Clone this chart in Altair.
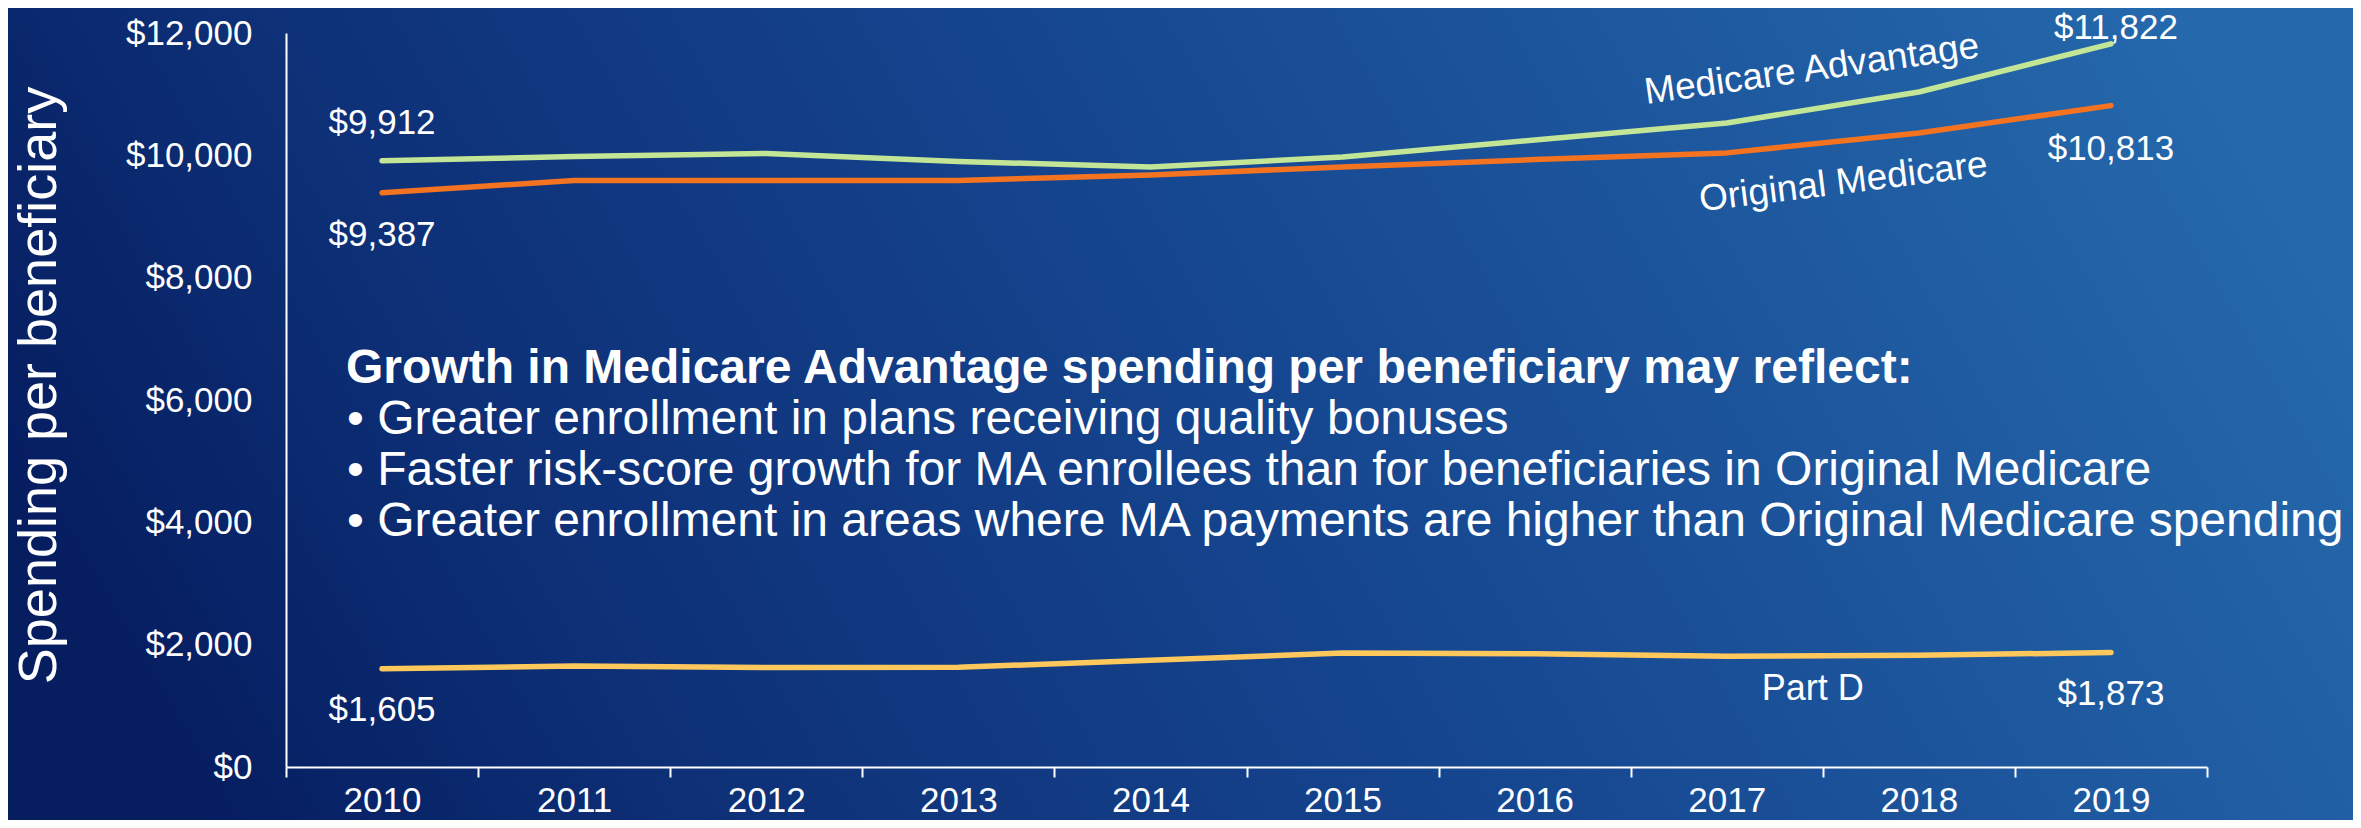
import altair as alt
import pandas as pd

# ---------------- data ----------------
years = ["2010", "2011", "2012", "2013", "2014", "2015", "2016", "2017", "2018", "2019"]
medicare_advantage = [9912, 9980, 10030, 9900, 9810, 9972, 10250, 10530, 11035, 11822]
original_medicare = [9387, 9590, 9590, 9590, 9680, 9810, 9930, 10040, 10365, 10813]
part_d = [1605, 1650, 1625, 1630, 1745, 1863, 1850, 1810, 1825, 1873]

series_names = ["Medicare Advantage", "Original Medicare", "Part D"]
series_colors = ["#c3e596", "#f47321", "#fec85c"]
y_ticks = [0, 2000, 4000, 6000, 8000, 10000, 12000]
y_title = "Spending per beneficiary"

headline = "Growth in Medicare Advantage spending per beneficiary may reflect:"
bullets = [
    "\u2022 Greater enrollment in plans receiving quality bonuses",
    "\u2022 Faster risk-score growth for MA enrollees than for beneficiaries in Original Medicare",
    "\u2022 Greater enrollment in areas where MA payments are higher than Original Medicare spending",
]

FONT = "Liberation Sans"
WHITE = "#ffffff"

rows = []
for name, vals in zip(series_names, [medicare_advantage, original_medicare, part_d]):
    for yr, v in zip(years, vals):
        rows.append({"year": yr, "series": name, "value": v})
df = pd.DataFrame(rows)

x_enc = alt.X(
    "year:O",
    bandPosition=0.5,
    sort=years,
    scale=alt.Scale(type="band", paddingInner=0, paddingOuter=0, domain=years),
    axis=alt.Axis(
        title=None, labelAngle=0, labelFontSize=35, labelColor=WHITE, labelFont=FONT,
        domainColor=WHITE, domainWidth=2, tickColor=WHITE, tickWidth=2, tickSize=10,
        tickBand="extent", labelPadding=6, grid=False, zindex=1,
    ),
)
y_enc = alt.Y(
    "value:Q",
    scale=alt.Scale(domain=[0, 12000], nice=False, zero=True),
    axis=alt.Axis(
        values=y_ticks, format="$,.0f", ticks=False, tickSize=0, labelPadding=34,
        labelFontSize=35, labelColor=WHITE, labelFont=FONT, domainColor=WHITE,
        domainWidth=2, grid=False, zindex=1,
        title=y_title, titleFontSize=54, titleFont=FONT, titleFontWeight="normal",
        titleColor=WHITE, titleAngle=270, titleX=-231, titleY=352,
        titleAlign="center", titleBaseline="alphabetic",
    ),
)
color_enc = alt.Color(
    "series:N", scale=alt.Scale(domain=series_names, range=series_colors), legend=None
)

base = alt.Chart(df)

# background gradient covering the whole canvas
grad = alt.LinearGradient(
    gradient="linear",
    stops=[
        alt.GradientStop(color="#061d60", offset=0),
        alt.GradientStop(color="#0d2f76", offset=0.2),
        alt.GradientStop(color="#164791", offset=0.55),
        alt.GradientStop(color="#2568ac", offset=1),
    ],
    x1=0, y1=0.6, x2=1, y2=0.4,
)
background = alt.Chart(pd.DataFrame({"k": [0]})).mark_rect(fill=grad).encode(
    x=alt.value(-278), x2=alt.value(2067), y=alt.value(-25), y2=alt.value(787)
)

lines = base.mark_line(strokeWidth=5.5, strokeCap="round", strokeJoin="round").encode(
    x=x_enc, y=y_enc, color=color_enc
)

# endpoint value labels
def value_label(series, year, dx, dy):
    return (
        base.transform_filter(
            (alt.datum.series == series) & (alt.datum.year == year)
        )
        .mark_text(font=FONT, fontSize=35, color=WHITE, align="center",
                   baseline="middle", dx=dx, dy=dy)
        .encode(x=x_enc, y=y_enc, text=alt.Text("value:Q", format="$,.0f"))
    )

labels = [
    value_label("Medicare Advantage", years[0], 0, -38),
    value_label("Medicare Advantage", years[-1], 5, -16),
    value_label("Original Medicare", years[0], 0, 42),
    value_label("Original Medicare", years[-1], 0, 43),
    value_label("Part D", years[0], 0, 41),
    value_label("Part D", years[-1], 0, 42),
]

# series name labels
def name_label(series, year, dx, dy, angle, size):
    return (
        base.transform_filter(
            (alt.datum.series == series) & (alt.datum.year == year)
        )
        .mark_text(font=FONT, fontSize=size, color=WHITE, align="center",
                   baseline="middle", dx=dx, dy=dy, angle=angle)
        .encode(x=x_enc, y=y_enc, text="series:N")
    )

names = [
    name_label("Medicare Advantage", years[8], -103, -37, 352, 37),
    name_label("Original Medicare", years[8], -81, 40, 353, 37),
    name_label("Part D", years[8], -106, 34, 0, 36),
]

one = pd.DataFrame({"k": [0]})
head_text = alt.Chart(one).mark_text(
    text=headline, font=FONT, fontSize=48, fontWeight="bold", color=WHITE,
    align="left", baseline="alphabetic",
).encode(x=alt.value(60), y=alt.value(350))

bullet_text = alt.Chart(one).mark_text(
    text=bullets, font=FONT, fontSize=48, color=WHITE, lineHeight=51,
    align="left", baseline="alphabetic",
).encode(x=alt.value(61), y=alt.value(401))

chart = (
    alt.layer(background, lines, *labels, *names, head_text, bullet_text)
    .properties(
        width=1921, height=734,
        autosize=alt.AutoSizeParams(type="none"),
        padding={"left": 278, "top": 25, "right": 146, "bottom": 53},
        background="#0e3079",
    )
    .configure_view(stroke=None)
    .configure(font=FONT)
)

chart.save("out.html", embed_options={"renderer": "svg", "actions": False})
